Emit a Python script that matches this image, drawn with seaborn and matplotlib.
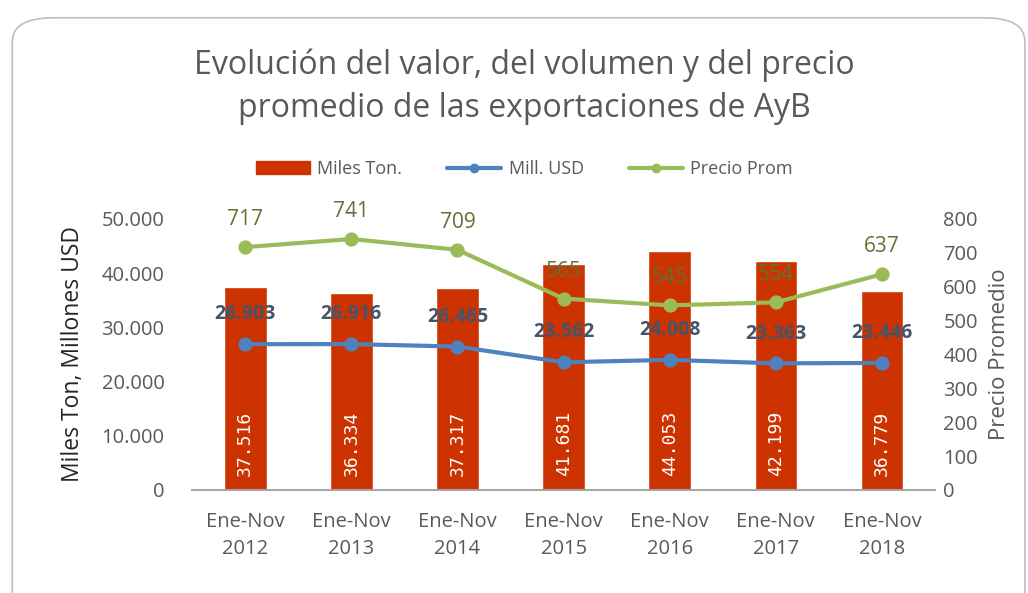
import seaborn as sns
import matplotlib.pyplot as plt
import pandas as pd
from matplotlib.patches import FancyBboxPatch, Patch
from matplotlib.lines import Line2D

# data
periodos = ["Ene-Nov\n2012", "Ene-Nov\n2013", "Ene-Nov\n2014", "Ene-Nov\n2015",
            "Ene-Nov\n2016", "Ene-Nov\n2017", "Ene-Nov\n2018"]
miles_ton = [37516, 36334, 37317, 41681, 44053, 42199, 36779]
mill_usd = [26903, 26916, 26465, 23562, 24008, 23363, 23446]
precio_prom = [717, 741, 709, 565, 545, 554, 637]

df = pd.DataFrame({"periodo": periodos, "ton": miles_ton,
                   "usd": mill_usd, "precio": precio_prom})

red = "#CC3300"
blue = "#4F81BD"
green = "#9BBB59"
grey = "#595959"

sns.set_style("white")
plt.rcParams['font.family'] = ['Open Sans', 'DejaVu Sans']

fig = plt.figure(figsize=(10.28, 5.93), dpi=100)
# rounded frame around the chart, kept behind the axes
frame = FancyBboxPatch((0.012, -0.05), 0.985, 1.02, boxstyle="round,pad=0,rounding_size=0.04",
                       transform=fig.transFigure, fc="white", ec="#BFBFBF", lw=1.2, zorder=-5)
fig.patches.append(frame)
ax = fig.add_axes([0.187, 0.1737, 0.7225, 0.457])
ax2 = ax.twinx()
ax.patch.set_alpha(0)
ax2.patch.set_alpha(0)

sns.barplot(data=df, x="periodo", y="ton", color=red, width=0.4, ax=ax, saturation=1)
sns.pointplot(data=df, x="periodo", y="usd", color=blue, markers="o", ax=ax,
              linewidth=3, markersize=8)
sns.pointplot(data=df, x="periodo", y="precio", color=green, markers="o", ax=ax2,
              linewidth=3, markersize=8)

ax.set_ylim(0, 50000)
ax2.set_ylim(0, 800)
ax.set_xlim(-0.5, 6.5)
ax.set_yticks(range(0, 50001, 10000))
ax.set_yticklabels([f"{v:,}".replace(",", ".") for v in range(0, 50001, 10000)])
ax2.set_yticks(range(0, 801, 100))

for i, v in enumerate(miles_ton):
    ax.text(i, 2600, f"{v:,}".replace(",", "."), rotation=90, ha="center", va="bottom",
            color="white", fontsize=13, family="DejaVu Sans Mono")
for i, v in enumerate(mill_usd):
    ax.text(i, v + 5500, f"{v:,}".replace(",", "."), ha="center", va="center",
            color="#44546A", fontsize=14, fontweight="bold")
for i, v in enumerate(precio_prom):
    ax2.text(i, v + 50, str(v), ha="center", va="bottom", color="#5E7332", fontsize=15)

for a in (ax, ax2):
    for s in a.spines.values():
        s.set_visible(False)
    a.tick_params(axis="y", length=0, labelsize=14.5, labelcolor=grey)
ax.spines["bottom"].set_visible(True)
ax.spines["bottom"].set_color("#A6A6A6")
ax.spines["bottom"].set_linewidth(1.5)
ax.tick_params(axis="x", labelsize=14.5, labelcolor=grey, length=0, pad=16)
for lbl in ax.get_xticklabels():
    lbl.set_linespacing(1.45)
ax.set_xticks([i + 0.5 for i in range(-1, 7)], minor=True)
ax.tick_params(axis="x", which="minor", length=8, color="#A6A6A6", direction="inout", width=1)
ax.tick_params(axis="y", pad=20)
ax2.tick_params(axis="y", pad=6)

ax.set_xlabel("")
ax.set_ylabel("Miles Ton, Millones USD", fontsize=16.5, color="#262626", labelpad=12)
ax2.set_ylabel("Precio Promedio", fontsize=16, color=grey, labelpad=8)

fig.text(0.51, 0.853, "Evolución del valor, del volumen y del precio\npromedio de las exportaciones de AyB",
         ha="center", va="center", fontsize=23, color=grey, linespacing=1.4)

handles = [Patch(color=red, label="Miles Ton."),
           Line2D([], [], color=blue, lw=3, marker="o", markersize=6, label="Mill. USD"),
           Line2D([], [], color=green, lw=3, marker="o", markersize=6, label="Precio Prom")]
fig.legend(handles=handles, loc="center", bbox_to_anchor=(0.51, 0.715), ncol=3, frameon=False,
           fontsize=13, labelcolor=grey, handlelength=3, columnspacing=2.5, handletextpad=0.4)

fig.savefig("out.png", dpi=100)
